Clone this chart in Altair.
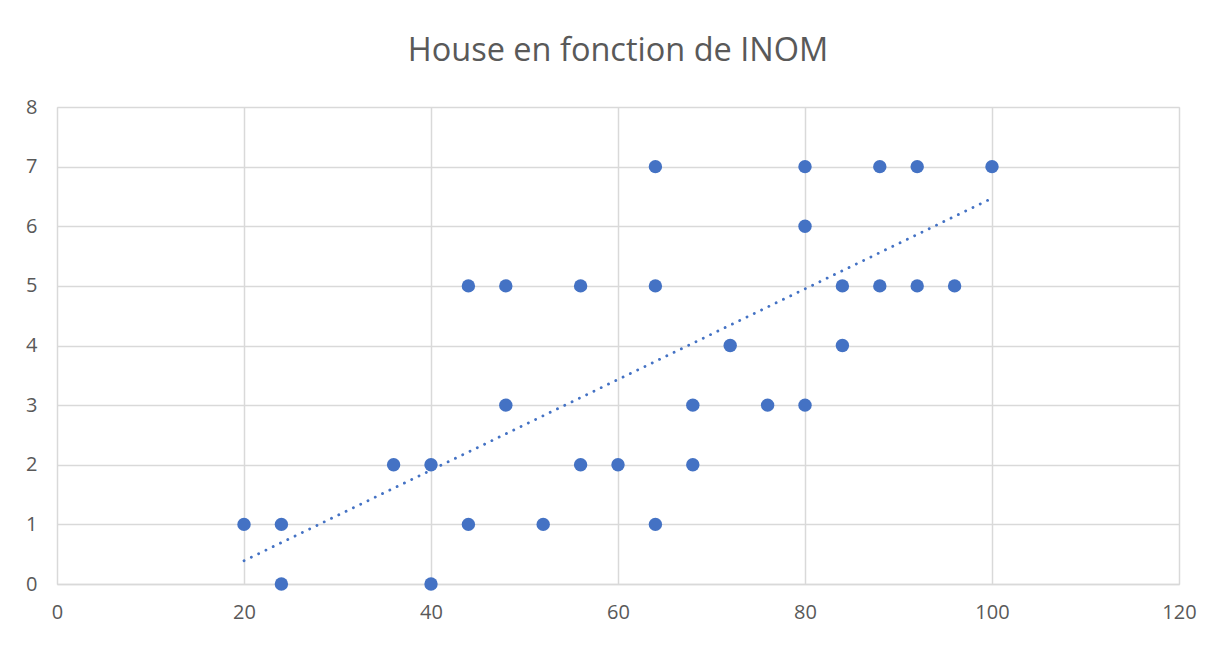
import altair as alt
import pandas as pd

inom = [20, 24, 24, 36, 40, 40, 44, 44, 48, 48, 52, 56, 56, 60, 64, 64, 64,
        68, 68, 72, 76, 80, 80, 80, 84, 84, 88, 88, 92, 92, 96, 100]
house = [1, 1, 0, 2, 2, 0, 5, 1, 5, 3, 1, 5, 2, 2, 7, 5, 1,
         3, 2, 4, 3, 7, 6, 3, 5, 4, 7, 5, 7, 5, 5, 7]

trend_x = [20, 100]
trend_y = [0.39, 6.47]

x_ticks = [0, 20, 40, 60, 80, 100, 120]
y_ticks = [0, 1, 2, 3, 4, 5, 6, 7, 8]

pts = pd.DataFrame({"INOM": inom, "House": house})
tr = pd.DataFrame({"INOM": trend_x, "House": trend_y})

FONT = "Open Sans"
GRAY = "#595959"
GRID = "#d9d9d9"
BLUE = "#4472C4"

xs = alt.Scale(domain=[0, 120], nice=False, zero=False)
ys = alt.Scale(domain=[0, 8], nice=False)

xax = alt.Axis(values=x_ticks, title=None, grid=True, gridColor=GRID, gridWidth=1.5,
               format="d", labelFlush=False,
               domain=True, domainColor=GRID, domainWidth=1.5, ticks=False,
               labelFont=FONT, labelFontSize=20, labelColor=GRAY, labelPadding=18)
yax = alt.Axis(values=y_ticks, title=None, grid=True, gridColor=GRID, gridWidth=1.5,
               format="d", labelFlush=False,
               domain=False, ticks=False,
               labelFont=FONT, labelFontSize=20, labelColor=GRAY, labelPadding=20)

points = alt.Chart(pts).mark_circle(size=180, color=BLUE, opacity=1).encode(
    x=alt.X("INOM:Q", scale=xs, axis=xax),
    y=alt.Y("House:Q", scale=ys, axis=yax),
)

trend = alt.Chart(tr).mark_line(color=BLUE, strokeWidth=2.8, strokeDash=[0.1, 8],
                                strokeCap="round").encode(
    x=alt.X("INOM:Q", scale=xs),
    y=alt.Y("House:Q", scale=ys),
)

chart = alt.layer(trend, points).properties(
    width=1122, height=477,
    title=alt.TitleParams("House en fonction de INOM", font=FONT, fontSize=32.5,
                          fontWeight="normal", color=GRAY, anchor="middle",
                          frame="group", baseline="alphabetic", offset=4),
    autosize=alt.AutoSizeParams(type="none"),
    padding={"left": 49, "top": 99, "right": 30, "bottom": 60},
).configure_view(stroke=None).configure(background="white")

chart.save("out.html", embed_options={"renderer": "svg", "actions": False})
